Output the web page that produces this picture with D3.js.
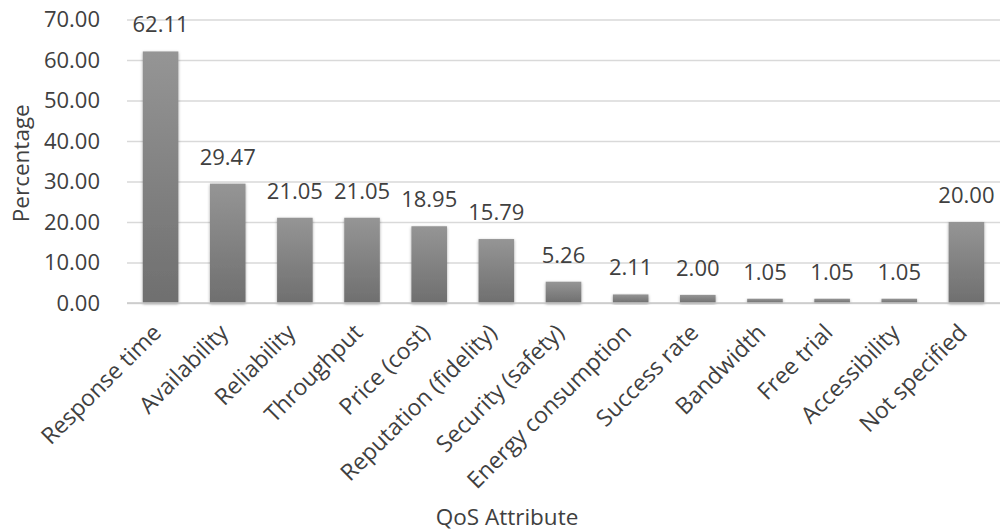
<!DOCTYPE html>
<html>
<head>
<meta charset="utf-8">
<script src="https://cdn.jsdelivr.net/npm/d3@7"></script>
<style>
  html, body { margin: 0; padding: 0; background: #fff; }
  svg { display: block; font-family: "Open Sans", sans-serif; }
</style>
</head>
<body>
<svg id="chart" width="1000" height="531"></svg>
<script>
// QoS attributes and the share of studies that use each one
const categories = [
  "Response time", "Availability", "Reliability", "Throughput", "Price (cost)",
  "Reputation (fidelity)", "Security (safety)", "Energy consumption",
  "Success rate", "Bandwidth", "Free trial", "Accessibility", "Not specified"
];
const percentages = [62.11, 29.47, 21.05, 21.05, 18.95, 15.79, 5.26, 2.11, 2.00, 1.05, 1.05, 1.05, 20.00];
const yTicks = [0, 10, 20, 30, 40, 50, 60, 70];

const svg = d3.select("#chart");
const margin = { left: 127, right: 0, top: 19.5, bottom: 228 };
const W = 1000, H = 531;
const textColor = "#404040";

const x = d3.scaleBand()
  .domain(categories)
  .range([margin.left, W - margin.right])
  .paddingInner(0.47)
  .paddingOuter(0.235);

const y = d3.scaleLinear()
  .domain([0, 70])
  .range([H - margin.bottom, margin.top]);

// vertical gradient and soft shadow for the bars
const defs = svg.append("defs");
const grad = defs.append("linearGradient")
  .attr("id", "barGrad").attr("x1", 0).attr("y1", 0).attr("x2", 0).attr("y2", 1);
grad.append("stop").attr("offset", "0%").attr("stop-color", "#959595");
grad.append("stop").attr("offset", "100%").attr("stop-color", "#6f6f6f");
const shadow = defs.append("filter").attr("id", "barShadow")
  .attr("x", "-30%").attr("y", "-10%").attr("width", "160%").attr("height", "130%");
shadow.append("feDropShadow")
  .attr("dx", 0).attr("dy", 1).attr("stdDeviation", 1.8)
  .attr("flood-color", "#000").attr("flood-opacity", 0.35);

// gridlines + y tick labels
const yAxis = d3.axisLeft(y)
  .tickValues(yTicks)
  .tickSize(-(W - margin.right - margin.left))
  .tickPadding(27)
  .tickFormat(d3.format(".2f"));

const gy = svg.append("g")
  .attr("transform", `translate(${margin.left},0)`)
  .call(yAxis);
gy.select(".domain").remove();
gy.selectAll(".tick line").attr("stroke", "#d9d9d9").attr("stroke-width", 1.3);
gy.selectAll(".tick text")
  .attr("fill", textColor)
  .style("font-size", "22px")
  .style("font-family", "'Open Sans', sans-serif");

// bars
svg.append("g").selectAll("rect")
  .data(categories.map((c, i) => ({ c, v: percentages[i] })))
  .join("rect")
  .attr("x", d => x(d.c))
  .attr("width", x.bandwidth())
  .attr("y", d => y(d.v))
  .attr("height", d => y(0) - y(d.v))
  .attr("fill", "url(#barGrad)")
  .attr("filter", "url(#barShadow)");

// x axis baseline and category labels
const xAxis = d3.axisBottom(x).tickSize(0).tickPadding(0);
const gx = svg.append("g")
  .attr("transform", `translate(0,${y(0)})`)
  .call(xAxis);
gx.select(".domain").attr("stroke", "#c8c8c8").attr("stroke-width", 1.5)
  .attr("d", `M${margin.left},0H${W - margin.right}`);
gx.selectAll(".tick text")
  .attr("fill", textColor)
  .style("font-size", "23px")
  .style("font-family", "'Open Sans', sans-serif")
  .attr("text-anchor", "end")
  .attr("dy", 0)
  .attr("transform", "translate(2,31) rotate(-45)");

// value labels
svg.append("g").selectAll("text")
  .data(categories.map((c, i) => ({ c, v: percentages[i] })))
  .join("text")
  .attr("x", d => x(d.c) + x.bandwidth() / 2)
  .attr("y", d => y(d.v) - 19)
  .attr("text-anchor", "middle")
  .attr("fill", textColor)
  .style("font-size", "22px")
  .text(d => d3.format(".2f")(d.v));

// axis titles
svg.append("text")
  .attr("transform", `translate(29,${(y(0) + y(70)) / 2 + 2}) rotate(-90)`)
  .attr("text-anchor", "middle")
  .attr("fill", textColor)
  .style("font-size", "22.5px")
  .text("Percentage");

svg.append("text")
  .attr("x", 507)
  .attr("y", 525)
  .attr("text-anchor", "middle")
  .attr("fill", textColor)
  .style("font-size", "22.5px")
  .text("QoS Attribute");
</script>
</body>
</html>
